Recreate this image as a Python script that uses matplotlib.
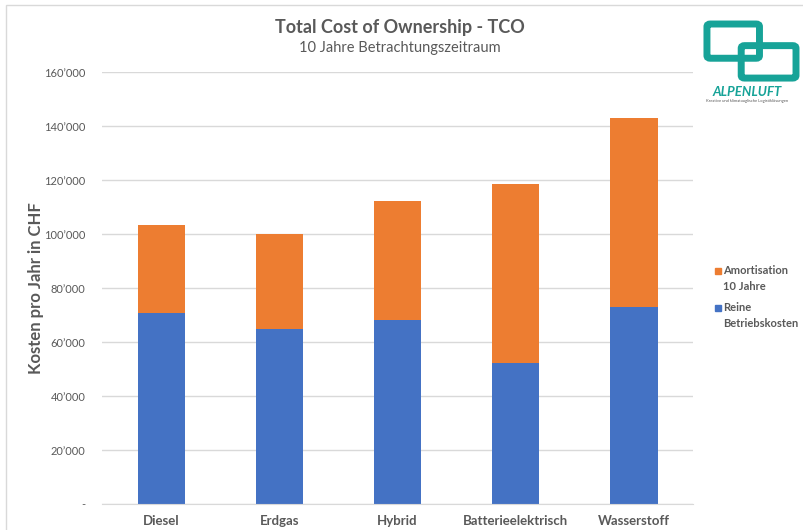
import matplotlib.pyplot as plt
from matplotlib.patches import FancyBboxPatch, Rectangle
from matplotlib.ticker import FuncFormatter

# Daten
kategorien = ['Diesel', 'Erdgas', 'Hybrid', 'Batterieelektrisch', 'Wasserstoff']
betriebskosten = [70700, 64900, 68300, 52200, 72800]
gesamt = [103400, 100200, 112200, 118500, 142900]
amortisation = [g - b for g, b in zip(gesamt, betriebskosten)]
y_ticks = [0, 20000, 40000, 60000, 80000, 100000, 120000, 140000, 160000]
legende = [('Amortisation\n10 Jahre', '#ED7D31'), ('Reine\nBetriebskosten', '#4472C4')]

BLAU = '#4472C4'
ORANGE = '#ED7D31'
GRAU = '#595959'
TEAL = '#17A398'

plt.rcParams['font.family'] = ['Lato', 'DejaVu Sans']

fig = plt.figure(figsize=(8.04, 5.30), dpi=100)
ax = fig.add_axes([0.127, 0.049, 0.735, 0.815])

x = range(len(kategorien))
ax.bar(x, betriebskosten, width=0.4, color=BLAU)
ax.bar(x, amortisation, width=0.4, bottom=betriebskosten, color=ORANGE)

ax.set_xlim(-0.5, len(kategorien) - 0.5)
ax.set_ylim(0, 160000)
ax.set_yticks(y_ticks)


def fmt(v, pos):
    if v == 0:
        return '-'
    return f'{int(v):,}'.replace(',', '\u2019')


ax.yaxis.set_major_formatter(FuncFormatter(fmt))
ax.set_xticks(list(x))
ax.set_xticklabels(kategorien, fontsize=9.5, fontweight='bold', color=GRAU)
ax.tick_params(axis='y', length=0, labelsize=8, labelcolor=GRAU, pad=12)
ax.tick_params(axis='x', length=0, pad=8)

ax.grid(axis='y', color='#D9D9D9', linewidth=1)
ax.set_axisbelow(True)
for s in ['top', 'right', 'left']:
    ax.spines[s].set_visible(False)
ax.spines['bottom'].set_color('#D9D9D9')

ax.set_ylabel('Kosten pro Jahr in CHF', fontsize=12, fontweight='bold', color=GRAU)
ax.yaxis.set_label_coords(-0.099, 0.5)

fig.text(0.497, 0.948, 'Total Cost of Ownership - TCO', ha='center', va='center',
         fontsize=13, fontweight='bold', color=GRAU)
fig.text(0.497, 0.91, '10 Jahre Betrachtungszeitraum', ha='center', va='center',
         fontsize=10.5, color=GRAU)

# Legende (Quadrat auf Höhe der ersten Zeile, wie im Original)
ly = [271, 308]
for (label, farbe), y in zip(legende, ly):
    fy = 1 - y / 530
    fig.add_artist(Rectangle((715 / 804, fy - 3 / 530), 6 / 804, 6 / 530,
                             transform=fig.transFigure, color=farbe))
    fig.text(723 / 804, fy + 6 / 530, label, ha='left', va='top', fontsize=8,
             fontweight='bold', color=GRAU, linespacing=1.6)

# Rahmen um die Grafik
fig.add_artist(Rectangle((0.007, -0.01), 1.2, 1.0, transform=fig.transFigure,
                         fill=False, edgecolor='#D9D9D9', linewidth=1))

# Logo (vereinfacht)
lax = fig.add_axes([0.858, 0.80, 0.142, 0.17])
lax.set_xlim(0, 10)
lax.set_ylim(0, 10)
lax.axis('off')
lax.add_patch(FancyBboxPatch((1.8, 5.6), 4.0, 3.2, boxstyle='round,pad=0.3',
                             fill=False, edgecolor=TEAL, linewidth=5))
lax.add_patch(FancyBboxPatch((4.8, 3.4), 4.2, 3.0, boxstyle='round,pad=0.3',
                             fill=False, edgecolor=TEAL, linewidth=5))
lax.text(5.0, 1.6, 'ALPENLUFT', ha='center', va='center', fontsize=9.5,
         style='italic', fontweight='bold', color=TEAL)
lax.text(5.0, 0.5, 'Kreative und klimatauglische Logistiklösungen', ha='center',
         va='center', fontsize=3, color=GRAU)

fig.savefig('out.png', dpi=100)
